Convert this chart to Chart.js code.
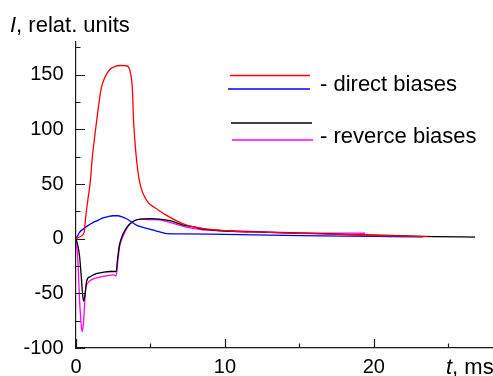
<!DOCTYPE html>
<html>
<head>
<meta charset="utf-8">
<script src="https://cdn.jsdelivr.net/npm/chart.js@4/dist/chart.umd.min.js"></script>
<style>
html,body{margin:0;padding:0;background:#fff;}
#wrap{width:493px;height:376px;position:relative;}
</style>
</head>
<body>
<div id="wrap"><canvas id="c" width="493" height="376"></canvas></div>
<script>
// ---- data ----
const directRedT = [0, 0.3, 0.55, 0.65, 0.8, 0.95, 1.1, 1.36, 1.55, 1.7, 1.92, 2.25, 2.6, 2.93, 3.3, 3.5, 3.65, 3.78, 3.87, 4.03, 4.27, 4.55, 4.85, 5.4, 6.0, 6.6, 7.2, 8.0, 9.0, 10.5, 12.5, 15, 18, 21, 23.6];
const directRedI = [0, 2, 6, 20, 36, 51, 75, 105, 125, 138, 147, 154.6, 157.5, 158.5, 158.3, 157.5, 152, 138, 107, 77, 52, 40, 33, 27.5, 22, 17.5, 13.7, 10.5, 8.5, 7, 6, 5, 3.8, 2.7, 2];

const directBlueT = [0, 0.25, 0.5, 0.8, 1.13, 1.5, 1.8, 2.15, 2.5, 2.8, 3.05, 3.35, 3.6, 4.05, 4.5, 4.95, 5.4, 5.8, 6.1, 7, 9, 12, 15, 18, 21, 23.3];
const directBlueI = [0, 6, 9, 12, 14.7, 17, 19, 20.3, 21, 21, 20.3, 18.5, 16.5, 12.5, 10.3, 8.8, 7, 5.5, 4.7, 4.5, 4.2, 3.5, 2.8, 2.3, 2, 1.8];

const reverseBlackT = [0, 0.12, 0.24, 0.35, 0.46, 0.52, 0.6, 0.7, 0.8, 0.91, 1.36, 1.8, 2.3, 2.7, 2.78, 2.85, 2.93, 3.15, 3.45, 3.8, 4.3, 5.0, 5.6, 6.3, 7.2, 7.9, 8.5, 9.5, 10.5, 12.5, 15, 18, 21, 24, 26.8];
const reverseBlackI = [0, -6, -16, -34, -53, -57, -52, -40, -36, -35, -32, -30.8, -30, -30, -20, -12, -5, 4, 11, 15.5, 18, 18.3, 18, 16.5, 12.5, 10.8, 9, 7.5, 6.7, 6, 5.2, 4, 3, 2, 1.5];

const reverseMagentaT = [0, 0.12, 0.24, 0.35, 0.42, 0.5, 0.57, 0.64, 0.8, 1.13, 1.5, 1.8, 2.25, 2.5, 2.7, 2.82, 2.93, 3.15, 3.49, 3.94, 4.4, 4.9, 5.6, 6.3, 7.2, 8.5, 10.5, 12.5, 15, 17, 19.4];
const reverseMagentaI = [0, -19, -56, -78.7, -85, -77, -62, -46.7, -40.5, -37, -35.5, -34.5, -33.5, -33, -34, -19, -7, 2, 11.3, 16.7, 18, 17.6, 17.2, 15, 11.3, 8.2, 7.3, 6.3, 5.2, 5.1, 5];

const xTickLabels = [0, 10, 20];
const yTickLabels = [-100, -50, 0, 50, 100, 150];
const xMinorTicks = [5, 15, 25];
const yMinorTicks = [-75, -25, 25, 75, 125, 175];

const legendLabels = ['- direct biases', '- reverce biases'];
const yTitle = ['I', ', relat. units'];
const xTitle = ['t', ', ms'];

function pts(t, v){ return t.map((x,i)=>({x:x, y:v[i]})); }

const FONT = '"Liberation Sans", Arial, Helvetica, sans-serif';

const decor = {
  id: 'decor',
  afterDraw(chart){
    const ctx = chart.ctx;
    const xs = chart.scales.x, ys = chart.scales.y;
    const left = chart.chartArea.left, bottom = chart.chartArea.bottom;
    ctx.save();
    ctx.strokeStyle = '#1a1a1a';
    ctx.lineWidth = 1.2;
    ctx.beginPath();
    // y ticks (inward)
    yTickLabels.forEach(v=>{ const y = Math.round(ys.getPixelForValue(v))+0.5; ctx.moveTo(left, y); ctx.lineTo(left+9, y); });
    yMinorTicks.forEach(v=>{ const y = Math.round(ys.getPixelForValue(v))+0.5; ctx.moveTo(left, y); ctx.lineTo(left+4.5, y); });
    xTickLabels.forEach(v=>{ const x = Math.round(xs.getPixelForValue(v))+0.5; ctx.moveTo(x, bottom); ctx.lineTo(x, bottom-9); });
    xMinorTicks.forEach(v=>{ const x = Math.round(xs.getPixelForValue(v))+0.5; ctx.moveTo(x, bottom); ctx.lineTo(x, bottom-4.5); });
    ctx.stroke();

    // axis titles
    ctx.fillStyle = '#000';
    ctx.textBaseline = 'alphabetic';
    ctx.textAlign = 'left';
    ctx.font = 'italic 22px ' + FONT;
    let w = ctx.measureText(yTitle[0]).width;
    ctx.fillText(yTitle[0], 10, 31.5);
    ctx.font = '22px ' + FONT;
    ctx.fillText(yTitle[1], 10 + w, 31.5);

    ctx.font = 'italic 22px ' + FONT;
    w = ctx.measureText(xTitle[0]).width;
    ctx.fillText(xTitle[0], 446, 373.5);
    ctx.font = '22px ' + FONT;
    ctx.fillText(xTitle[1], 446 + w, 373.5);

    // legend
    const ds = chart.data.datasets;
    const segs = [[230,310,75.5],[228,310,89],[231,312,123],[232,313,140]];
    segs.forEach((s,i)=>{
      ctx.strokeStyle = ds[i].borderColor;
      ctx.lineWidth = 1.3;
      ctx.beginPath(); ctx.moveTo(s[0], s[2]); ctx.lineTo(s[1], s[2]); ctx.stroke();
    });
    ctx.fillStyle = '#000';
    ctx.font = '22px ' + FONT;
    ctx.fillText(legendLabels[0], 320, 91);
    ctx.fillText(legendLabels[1], 320, 143.3);
    ctx.restore();
  }
};

const common = {fill:false, pointRadius:0, borderWidth:1.3, cubicInterpolationMode:'monotone'};

new Chart(document.getElementById('c'), {
  type: 'line',
  data: {
    datasets: [
      Object.assign({label:'direct 1', data: pts(directRedT, directRedI), borderColor:'#ff0000'}, common),
      Object.assign({label:'direct 2', data: pts(directBlueT, directBlueI), borderColor:'#0000ff'}, common),
      Object.assign({label:'reverse 1', data: pts(reverseBlackT, reverseBlackI), borderColor:'#000000'}, common),
      Object.assign({label:'reverse 2', data: pts(reverseMagentaT, reverseMagentaI), borderColor:'#ff00ff'}, common)
    ]
  },
  options: {
    responsive: false,
    animation: false,
    devicePixelRatio: 1,
    layout: {padding: {top: 42, right: 0, left: 0, bottom: 0}},
    plugins: {legend:{display:false}, tooltip:{enabled:false}, title:{display:false}},
    scales: {
      x: {
        type: 'linear', min: 0, max: 28,
        grid: {display:false, drawTicks:false},
        border: {display:true, color:'#1a1a1a', width:1.2},
        afterBuildTicks: s => { s.ticks = xTickLabels.map(v=>({value:v})); },
        afterFit: s => { s.height = 28; },
        ticks: {color:'#000', font:{family:FONT, size:20}, padding:7, maxRotation:0, autoSkip:false}
      },
      y: {
        type: 'linear', min: -100, max: 180,
        grid: {display:false, drawTicks:false},
        border: {display:true, color:'#1a1a1a', width:1.2},
        afterBuildTicks: s => { s.ticks = yTickLabels.map(v=>({value:v})); },
        afterFit: s => { s.width = 76; },
        ticks: {color:'#000', font:{family:FONT, size:20}, padding:12.5, autoSkip:false}
      }
    }
  },
  plugins: [decor]
});
</script>
</body>
</html>
